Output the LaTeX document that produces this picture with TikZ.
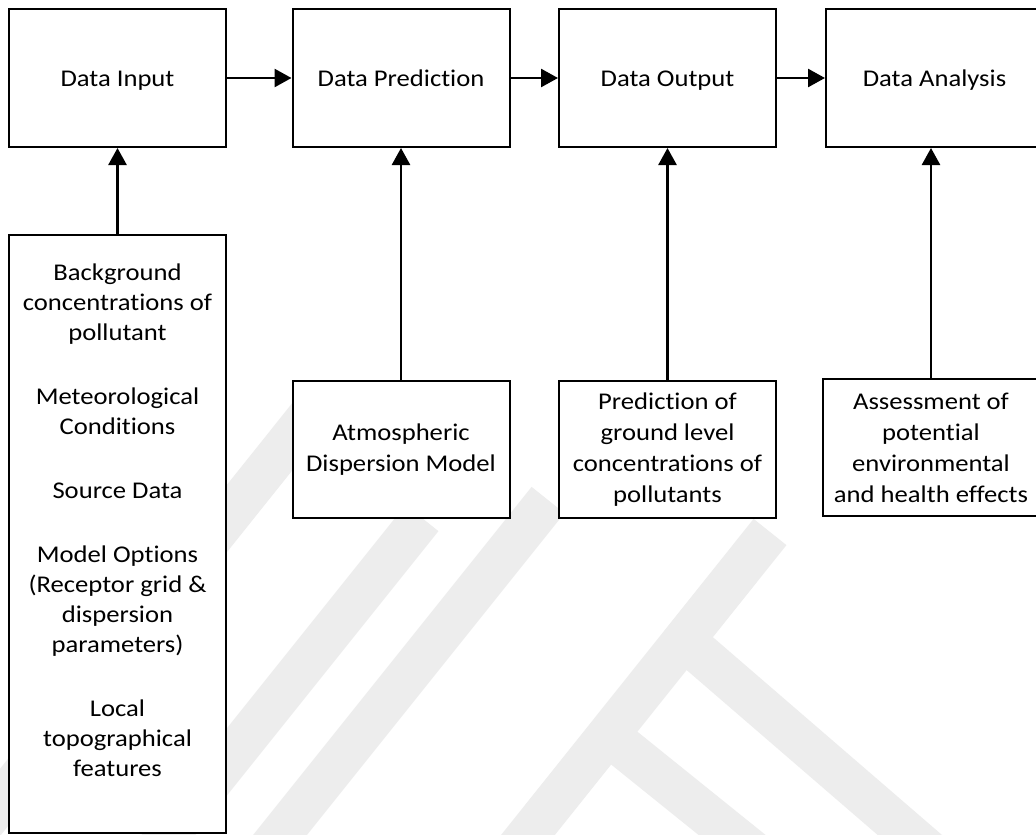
\documentclass[tikz,border=0pt]{standalone}
\usepackage{fontspec}
\setmainfont{Carlito}[FakeStretch=1.11, Ligatures={NoCommon}]
\usetikzlibrary{arrows.meta}
\begin{document}
\begin{tikzpicture}[x=1pt,y=-1pt,
  font=\fontsize{24}{30}\selectfont,
  box/.style={draw=black, fill=white, line width=2pt, minimum width=217pt,
              minimum height=138pt, inner sep=0pt, align=center},
  stage/.style={box, text height=20pt, text depth=4pt},
  feed/.style={box, minimum height=137pt, font=\fontsize{24}{31}\selectfont},
  flow/.style={line width=2.6pt, -{Triangle[length=17pt,width=18pt]}},
  txt/.style={align=center, inner sep=0pt},
  band/.style={draw=black!7, line width=42pt}
]
\useasboundingbox (0,0) rectangle (1036,835);
\clip (0,0) rectangle (1036,835);
\fill[white] (0,0) rectangle (1036,835);

% faint background emblem
\draw[band] (-30,840) -- (320,402);
\draw[band] (130,883) -- (422,518);
\draw[band] (244,880) -- (548,500);
\draw[band] (492,880) -- (770,532);
\draw[band] (684,640) -- (962,880);
\draw[band] (608,735) -- (788,880);

% process stages
\node[stage] (din)   at (117.5,78) {Data Input};
\node[stage] (dpred) at (401,78)   {Data Prediction};
\node[stage] (dout)  at (667.5,78) {Data Output};
\node[stage] (dana)  at (934.5,78) {Data Analysis};

% inputs to each stage
\node[box, minimum height=598pt] (src) at (117.5,534) {};
\node[txt] (srctext) at (117.5,520) {Background\\concentrations of\\pollutant\\[34pt]%
Meteorological\\Conditions\\[34pt]Source Data\\[34pt]Model Options\\(Receptor grid \&\\%
dispersion\\parameters)\\[34pt]Local\\topographical\\features};
\node[feed] (atm)  at (401,449.5)   {Atmospheric\\Dispersion Model};
\node[feed] (pred) at (667.5,449.5) {Prediction of\\ground level\\concentrations of\\pollutants};
\node[feed] (ass)  at (931,447.5)   {Assessment of\\potential\\environmental\\and health effects};

% flow between stages
\draw[flow] (din.east)   -- (dpred.west);
\draw[flow] (dpred.east) -- (dout.west);
\draw[flow] (dout.east)  -- (dana.west);

% inputs feeding the stages
\draw[flow] (src.north)  -- (din.south);
\draw[flow] (atm.north)  -- (dpred.south);
\draw[flow] (pred.north) -- (dout.south);
\draw[flow] (ass.north)  -- (ass.north |- dana.south);
\end{tikzpicture}
\end{document}
